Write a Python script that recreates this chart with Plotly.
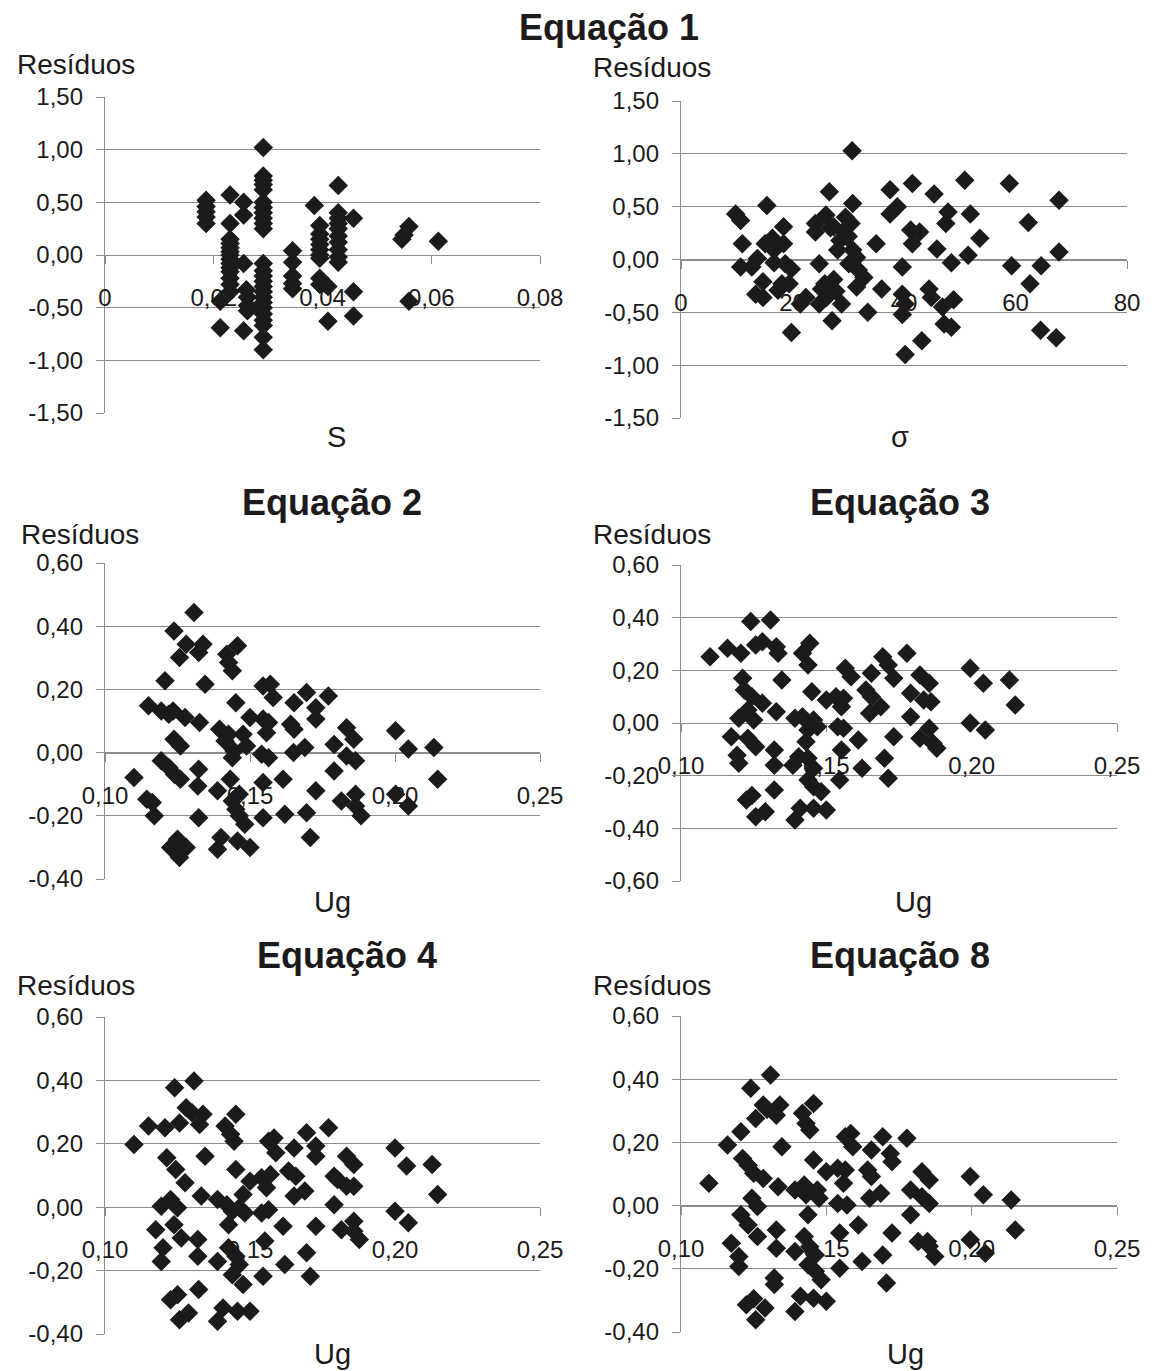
import plotly.graph_objects as go

# ---------------- data ----------------
# Equação 1: residuals against S
s_values = [
    0.0186, 0.0186, 0.0186, 0.0186, 0.0186,
    0.0212, 0.0212,
    0.0230, 0.0230, 0.0230, 0.0230, 0.0230, 0.0230, 0.0230, 0.0230, 0.0230, 0.0230, 0.0230, 0.0230, 0.0230, 0.0230,
    0.0255, 0.0255, 0.0255, 0.0260, 0.0262, 0.0262, 0.0262, 0.0255,
    0.0291, 0.0291, 0.0291, 0.0291, 0.0291, 0.0291, 0.0291, 0.0291, 0.0291, 0.0291, 0.0291, 0.0291, 0.0291,
    0.0291, 0.0291, 0.0291, 0.0291, 0.0291, 0.0291, 0.0291, 0.0291, 0.0291, 0.0291, 0.0291, 0.0291,
    0.0345, 0.0345, 0.0345, 0.0345, 0.0345,
    0.0385,
    0.0395, 0.0395, 0.0395, 0.0395, 0.0395, 0.0395, 0.0395, 0.0395, 0.0395,
    0.0410, 0.0410,
    0.0429, 0.0429, 0.0429, 0.0429, 0.0429, 0.0429, 0.0429, 0.0429, 0.0429, 0.0429,
    0.0457, 0.0457, 0.0457,
    0.0546, 0.0550,
    0.0559, 0.0559,
    0.0613,
]
res_eq1_s = [
    0.52, 0.46, 0.41, 0.36, 0.30,
    -0.44, -0.69,
    0.57, 0.30, 0.15, 0.11, 0.07, 0.03, 0.00, -0.04, -0.08, -0.12, -0.16, -0.22, -0.28, -0.35,
    0.50, 0.38, -0.08, -0.33, -0.40, -0.48, -0.53, -0.72,
    1.02, 0.75, 0.71, 0.67, 0.62, 0.50, 0.45, 0.40, 0.35, 0.30, 0.25, -0.08, -0.15,
    -0.20, -0.25, -0.30, -0.35, -0.40, -0.45, -0.50, -0.56, -0.62, -0.67, -0.78, -0.90,
    0.04, -0.07, -0.20, -0.27, -0.32,
    0.47,
    0.28, 0.20, 0.15, 0.10, 0.05, 0.00, -0.03, -0.22, -0.28,
    -0.30, -0.63,
    0.66, 0.40, 0.35, 0.30, 0.25, 0.18, 0.12, 0.05, -0.02, -0.07,
    0.35, -0.35, -0.58,
    0.15, 0.19,
    0.27, -0.44,
    0.13,
]

# Equação 1: residuals against sigma
sigma_values = [
    9.8, 10.7, 11.0, 10.7, 12.7, 13.7, 13.4, 14.7, 14.7, 15.4,
    15.1, 16.4, 16.7, 16.7, 17.4, 18.4, 18.4, 18.7, 19.8, 19.4,
    18.1, 19.8, 21.4, 22.4, 24.1, 24.1, 24.8, 24.8, 26.0, 26.6,
    25.8, 26.1, 27.1, 27.4, 27.4, 28.1, 28.8, 29.5, 29.8, 30.1,
    30.5, 30.7, 30.8, 30.8, 31.5, 31.8, 31.5, 32.8, 33.5, 35.0,
    36.0, 37.5, 37.5, 38.8, 39.7, 39.7, 39.7, 40.2, 40.2, 41.5,
    41.2, 41.5, 42.8, 43.2, 44.5, 44.9, 45.4, 45.9, 46.9, 47.2,
    47.5, 47.9, 48.5, 48.9, 48.5, 50.9, 51.9, 51.5, 53.6, 58.9,
    59.3, 62.3, 62.6, 64.6, 64.5, 67.3, 67.8, 67.8,
    26.8, 28.5, 29.2, 30.0, 25.2, 27.8,
]
res_eq1_sigma = [
    0.43, 0.37, 0.15, -0.07, -0.07, 0.01, -0.33, -0.36, -0.21, 0.51,
    0.15, 0.20, 0.09, -0.03, -0.29, 0.31, 0.15, -0.04, -0.09, -0.23,
    -0.23, -0.69, -0.42, -0.36, 0.34, 0.26, -0.04, -0.42, 0.42, 0.64,
    -0.23, -0.36, -0.58, -0.19, 0.31, 0.09, -0.42, 0.40, 0.21, -0.04,
    0.34, 1.03, 0.53, 0.09, 0.02, -0.10, -0.26, -0.17, -0.50, 0.15,
    -0.28, 0.66, 0.43, 0.50, -0.07, -0.33, -0.52, -0.42, -0.90, 0.72,
    0.28, 0.15, 0.26, -0.77, -0.28, -0.36, 0.62, 0.10, -0.45, -0.61,
    0.34, 0.45, -0.03, -0.38, -0.64, 0.75, 0.43, 0.04, 0.20, 0.72,
    -0.06, 0.35, -0.23, -0.06, -0.67, -0.74, 0.56, 0.07,
    0.30, 0.18, 0.27, 0.22, -0.28, -0.30,
]

# Equação 2: residuals against Ug
ug_eq2 = [
    0.110, 0.115, 0.1144, 0.1163, 0.117, 0.1207, 0.1194, 0.122, 0.1235, 0.1194,
    0.122, 0.124, 0.126, 0.1238, 0.126, 0.1238, 0.1257, 0.1226, 0.125, 0.1257,
    0.128, 0.1245, 0.128, 0.1276, 0.1307, 0.1323, 0.1338, 0.1345, 0.1326, 0.1323,
    0.132, 0.1323, 0.1388, 0.1388, 0.140, 0.1395, 0.142, 0.1426, 0.1439, 0.1457,
    0.1432, 0.1439, 0.1445, 0.1414, 0.1426, 0.1451, 0.1439, 0.1451, 0.1463, 0.1482,
    0.1463, 0.1457, 0.150, 0.1476, 0.1488, 0.150, 0.1545, 0.157, 0.158, 0.1545,
    0.1564, 0.1557, 0.154, 0.1564, 0.1545, 0.1545, 0.1614, 0.162, 0.164, 0.1652,
    0.1652, 0.165, 0.1689, 0.1695, 0.1695, 0.1708, 0.1727, 0.1727, 0.1727, 0.177,
    0.179, 0.179, 0.1815, 0.1833, 0.1858, 0.1833, 0.1864, 0.1864, 0.1864, 0.1883,
    0.2002, 0.2002, 0.2046, 0.2046, 0.2134, 0.2147,
]
res_eq2 = [
    -0.079, 0.148, -0.148, -0.158, -0.200, 0.227, 0.132, 0.121, 0.132, -0.026,
    -0.047, -0.069, -0.084, 0.042, 0.021, 0.385, 0.301, -0.300, -0.274, -0.332,
    -0.300, -0.316, 0.343, 0.111, 0.443, 0.317, 0.343, 0.216, 0.095, -0.053,
    -0.106, -0.206, -0.121, -0.306, -0.269, 0.074, 0.311, 0.285, 0.259, 0.338,
    -0.084, -0.016, 0.005, 0.037, 0.058, 0.158, -0.153, -0.179, -0.200, -0.227,
    -0.132, -0.280, -0.300, 0.058, 0.021, 0.111, 0.211, 0.216, 0.174, 0.106,
    0.095, 0.063, -0.005, -0.016, -0.095, -0.206, -0.084, -0.195, 0.090, 0.074,
    0.158, 0.000, 0.016, 0.190, -0.190, -0.269, 0.142, 0.106, -0.121, 0.179,
    0.026, -0.058, -0.153, 0.079, 0.042, -0.011, -0.026, -0.132, -0.169, -0.200,
    0.069, -0.132, 0.011, -0.169, 0.016, -0.084,
]

# Equação 3: residuals against Ug
ug_eq3 = [
    0.110, 0.116, 0.1206, 0.1212, 0.1173, 0.1193, 0.1199, 0.1199, 0.123, 0.125,
    0.1218, 0.1244, 0.128, 0.123, 0.1257, 0.124, 0.1257, 0.128, 0.1308, 0.1328,
    0.1334, 0.1347, 0.1328, 0.1321, 0.1321, 0.1321, 0.1225, 0.1244, 0.1257, 0.129,
    0.1392, 0.141, 0.1385, 0.1405, 0.1392, 0.1418, 0.1418, 0.1443, 0.1437, 0.145,
    0.1437, 0.1430, 0.1456, 0.1469, 0.1437, 0.1456, 0.1437, 0.1456, 0.1482, 0.1456,
    0.150, 0.150, 0.1533, 0.1559, 0.1552, 0.1539, 0.1559, 0.1552, 0.1546, 0.1565,
    0.1585, 0.161, 0.1623, 0.1636, 0.1655, 0.1655, 0.1649, 0.1687, 0.1694, 0.1713,
    0.1732, 0.170, 0.1713, 0.1732, 0.1777, 0.179, 0.179, 0.1822, 0.1854, 0.1835,
    0.1860, 0.1822, 0.1854, 0.1867, 0.188, 0.1995, 0.204, 0.1995, 0.2047, 0.213,
    0.215,
]
res_eq3 = [
    0.252, 0.284, 0.265, 0.170, -0.052, -0.122, -0.153, 0.018, 0.049, 0.011,
    0.125, 0.100, 0.075, -0.058, -0.090, 0.385, 0.296, 0.309, 0.391, 0.290,
    0.265, 0.163, 0.043, -0.103, -0.160, -0.254, -0.292, -0.275, -0.356, -0.337,
    -0.368, -0.324, -0.160, -0.128, 0.018, 0.024, 0.265, 0.303, 0.220, 0.119,
    -0.027, -0.071, 0.011, -0.014, -0.134, -0.172, -0.216, -0.242, -0.261, -0.324,
    -0.330, 0.087, 0.100, 0.094, 0.062, -0.014, -0.020, -0.103, -0.216, 0.208,
    0.176, -0.065, -0.172, 0.125, 0.100, 0.189, 0.037, 0.062, 0.252, 0.220,
    0.170, -0.134, -0.210, -0.052, 0.265, 0.113, 0.024, 0.182, 0.151, 0.087,
    0.081, -0.058, -0.020, -0.077, -0.096, 0.208, 0.151, 0.000, -0.027, 0.163,
    0.068,
]

# Equação 4: residuals against Ug
ug_eq4 = [
    0.110, 0.115, 0.1207, 0.1213, 0.1175, 0.120, 0.1194, 0.1194, 0.1226, 0.125,
    0.1244, 0.1276, 0.1238, 0.1263, 0.124, 0.1257, 0.128, 0.130, 0.1307, 0.1338,
    0.1326, 0.1345, 0.1332, 0.132, 0.132, 0.1323, 0.1226, 0.1250, 0.1257, 0.1288,
    0.1388, 0.1407, 0.1388, 0.1388, 0.1420, 0.1414, 0.1433, 0.1451, 0.1445, 0.1451,
    0.1426, 0.1439, 0.1463, 0.1482, 0.1426, 0.1451, 0.1463, 0.1439, 0.1476, 0.1457,
    0.150, 0.1476, 0.150, 0.154, 0.1570, 0.1557, 0.154, 0.1564, 0.1551, 0.1545,
    0.1564, 0.1583, 0.1589, 0.1614, 0.162, 0.1633, 0.1658, 0.1652, 0.1652, 0.1689,
    0.1695, 0.1695, 0.1708, 0.1727, 0.1727, 0.1727, 0.1771, 0.179, 0.1802, 0.179,
    0.1815, 0.1833, 0.1858, 0.1833, 0.1858, 0.1858, 0.1858, 0.1877, 0.200, 0.200,
    0.204, 0.2046, 0.2128, 0.2147,
]
res_eq4 = [
    0.198, 0.256, 0.251, 0.156, -0.071, -0.128, -0.171, 0.003, 0.024, -0.002,
    0.119, 0.077, -0.055, -0.097, 0.377, 0.266, 0.314, 0.298, 0.398, 0.293,
    0.261, 0.161, 0.035, -0.102, -0.155, -0.260, -0.292, -0.276, -0.355, -0.334,
    -0.360, -0.318, -0.171, 0.024, 0.008, 0.256, 0.230, 0.293, 0.208, 0.119,
    -0.055, -0.013, -0.002, -0.018, -0.128, -0.155, -0.181, -0.213, -0.244, -0.328,
    -0.328, 0.040, 0.082, 0.093, 0.103, 0.061, -0.018, -0.008, -0.107, -0.218,
    0.208, 0.218, 0.172, -0.060, -0.181, 0.114, 0.098, 0.187, 0.035, 0.051,
    0.235, -0.144, -0.218, 0.193, 0.161, -0.060, 0.251, 0.098, 0.087, 0.008,
    -0.071, 0.161, 0.135, 0.066, 0.066, -0.044, -0.076, -0.102, 0.187, -0.013,
    0.130, -0.049, 0.135, 0.040,
]

# Equação 8: residuals against Ug
ug_eq8 = [
    0.1096, 0.116, 0.1206, 0.1212, 0.1231, 0.125, 0.1283, 0.1173, 0.1199, 0.1199,
    0.1206, 0.1231, 0.1263, 0.1244, 0.1263, 0.124, 0.1257, 0.1283, 0.1296, 0.1308,
    0.1328, 0.134, 0.1347, 0.1334, 0.1328, 0.1328, 0.1321, 0.1321, 0.1225, 0.1250,
    0.1257, 0.1289, 0.1392, 0.1411, 0.1392, 0.1392, 0.1424, 0.1418, 0.1430, 0.1443,
    0.1456, 0.1456, 0.143, 0.1437, 0.1469, 0.1475, 0.1424, 0.1443, 0.1462, 0.1437,
    0.1462, 0.1482, 0.1456, 0.150, 0.150, 0.1539, 0.1565, 0.1559, 0.1539, 0.1571,
    0.1546, 0.1546, 0.1565, 0.1584, 0.1591, 0.161, 0.1623, 0.1642, 0.1655, 0.1655,
    0.1649, 0.1687, 0.1694, 0.1694, 0.1707, 0.172, 0.1726, 0.1726, 0.1777, 0.179,
    0.179, 0.1816, 0.1848, 0.1829, 0.1854, 0.1829, 0.1854, 0.1854, 0.1873, 0.1995,
    0.1995, 0.204, 0.2047, 0.2136, 0.215,
]
res_eq8 = [
    0.071, 0.192, 0.234, 0.149, 0.128, 0.102, 0.086, -0.119, -0.161, -0.193,
    -0.029, -0.061, -0.098, 0.023, -0.003, 0.371, 0.276, 0.318, 0.305, 0.413,
    0.286, 0.318, 0.186, 0.060, -0.077, -0.135, -0.229, -0.250, -0.314, -0.295,
    -0.361, -0.324, -0.335, -0.287, -0.145, 0.049, 0.065, 0.292, 0.260, 0.239,
    0.323, 0.144, 0.034, -0.029, 0.049, 0.023, -0.098, -0.130, -0.156, -0.187,
    -0.208, -0.235, -0.293, -0.303, 0.107, 0.118, 0.113, 0.071, 0.007, 0.002,
    -0.087, -0.198, 0.218, 0.228, 0.186, -0.061, -0.177, 0.113, 0.092, 0.176,
    0.023, 0.039, 0.218, -0.156, -0.245, 0.165, 0.139, -0.087, 0.213, 0.049,
    -0.029, -0.114, -0.114, 0.107, 0.081, 0.028, 0.007, -0.129, -0.161, 0.092,
    -0.108, 0.034, -0.151, 0.018, -0.077,
]

# tick labels
s_ticks = [0, 0.02, 0.04, 0.06, 0.08]
s_ticktext = ["0", "0,02", "0,04", "0,06", "0,08"]
sigma_ticks = [0, 20, 40, 60, 80]
sigma_ticktext = ["0", "20", "40", "60", "80"]
ug_ticks = [0.10, 0.15, 0.20, 0.25]
ug_ticktext = ["0,10", "0,15", "0,20", "0,25"]

res_ticks_wide = [-1.5, -1.0, -0.5, 0.0, 0.5, 1.0, 1.5]
res_ticktext_wide = ["-1,50", "-1,00", "-0,50", "0,00", "0,50", "1,00", "1,50"]
res_ticks_a = [-0.4, -0.2, 0.0, 0.2, 0.4, 0.6]
res_ticktext_a = ["-0,40", "-0,20", "0,00", "0,20", "0,40", "0,60"]
res_ticks_b = [-0.6, -0.4, -0.2, 0.0, 0.2, 0.4, 0.6]
res_ticktext_b = ["-0,60", "-0,40", "-0,20", "0,00", "0,20", "0,40", "0,60"]

panel_titles = ["Equação 1", "Equação 2", "Equação 3", "Equação 4", "Equação 8"]
y_title = "Resíduos"

# ---------------- layout helpers ----------------
W, H = 1154, 1371
FONT = "Liberation Sans, Arial, sans-serif"
INK = "#1c1a1b"
GRID = "#8c8c8c"


def xdom(left, right):
    return [left / W, right / W]


def ydom(top, bottom):
    return [1 - bottom / H, 1 - top / H]


panels = [
    dict(x=s_values, y=res_eq1_s, xpx=(105, 540), ypx=(97, 413), xr=(0, 0.08), yr=(-1.5, 1.5),
         tv=s_ticks, tt=s_ticktext, ytv=res_ticks_wide, ytt=res_ticktext_wide,
         xt="S", xt_pos=(336, 437), yt_pos=(76, 65)),
    dict(x=sigma_values, y=res_eq1_sigma, xpx=(681, 1127), ypx=(101, 418), xr=(0, 80), yr=(-1.5, 1.5),
         tv=sigma_ticks, tt=sigma_ticktext, ytv=res_ticks_wide, ytt=res_ticktext_wide,
         xt="σ", xt_pos=(900, 437), yt_pos=(652, 67)),
    dict(x=ug_eq2, y=res_eq2, xpx=(105, 540), ypx=(563, 879), xr=(0.10, 0.25), yr=(-0.4, 0.6),
         tv=ug_ticks, tt=ug_ticktext, ytv=res_ticks_a, ytt=res_ticktext_a,
         xt="Ug", xt_pos=(332, 902), yt_pos=(80, 534)),
    dict(x=ug_eq3, y=res_eq3, xpx=(681, 1117), ypx=(565, 881), xr=(0.10, 0.25), yr=(-0.6, 0.6),
         tv=ug_ticks, tt=ug_ticktext, ytv=res_ticks_b, ytt=res_ticktext_b,
         xt="Ug", xt_pos=(913, 902), yt_pos=(652, 534)),
    dict(x=ug_eq4, y=res_eq4, xpx=(105, 540), ypx=(1017, 1334), xr=(0.10, 0.25), yr=(-0.4, 0.6),
         tv=ug_ticks, tt=ug_ticktext, ytv=res_ticks_a, ytt=res_ticktext_a,
         xt="Ug", xt_pos=(332, 1354), yt_pos=(76, 986)),
    dict(x=ug_eq8, y=res_eq8, xpx=(681, 1117), ypx=(1016, 1332), xr=(0.10, 0.25), yr=(-0.4, 0.6),
         tv=ug_ticks, tt=ug_ticktext, ytv=res_ticks_a, ytt=res_ticktext_a,
         xt="Ug", xt_pos=(905, 1354), yt_pos=(652, 986)),
]

title_pos = [(609, 27), (332, 502), (900, 502), (347, 955), (900, 955)]

fig = go.Figure()
annotations = []

for i, p in enumerate(panels, start=1):
    xa = "x" if i == 1 else f"x{i}"
    ya = "y" if i == 1 else f"y{i}"
    fig.add_trace(go.Scatter(
        x=p["x"], y=p["y"], mode="markers", xaxis=xa, yaxis=ya,
        marker=dict(symbol="diamond", size=15, color=INK, line=dict(width=0)),
        showlegend=False, cliponaxis=False,
    ))

    yd = ydom(*p["ypx"])
    y0, y1 = p["yr"]
    zero_pos = yd[0] + (0 - y0) / (y1 - y0) * (yd[1] - yd[0])

    xkey = "xaxis" if i == 1 else f"xaxis{i}"
    ykey = "yaxis" if i == 1 else f"yaxis{i}"
    fig.layout[xkey] = dict(
        domain=xdom(*p["xpx"]), range=list(p["xr"]), anchor="free", position=zero_pos,
        automargin=False,
        tickmode="array", tickvals=p["tv"], ticktext=p["tt"],
        showgrid=False, zeroline=False, showline=True, linecolor=GRID, linewidth=1.4,
        ticks="outside", ticklen=8, tickwidth=1.4, tickcolor=GRID,
        ticklabelstandoff=13, layer="below traces",
        tickfont=dict(family=FONT, size=24, color=INK), fixedrange=True,
    )
    fig.layout[ykey] = dict(
        domain=yd, range=list(p["yr"]), anchor=xa, automargin=False,
        tickmode="array", tickvals=p["ytv"], ticktext=p["ytt"],
        showgrid=True, gridcolor=GRID, gridwidth=1.4, zeroline=False,
        showline=True, linecolor=GRID, linewidth=1.4,
        ticks="outside", ticklen=8, tickwidth=1.4, tickcolor=GRID,
        ticklabelstandoff=8, layer="below traces",
        tickfont=dict(family=FONT, size=24, color=INK), fixedrange=True,
    )

    annotations.append(dict(
        text=p["xt"], x=p["xt_pos"][0] / W, y=1 - p["xt_pos"][1] / H,
        xref="paper", yref="paper", xanchor="center", yanchor="middle", showarrow=False,
        font=dict(family=FONT, size=29, color=INK),
    ))
    annotations.append(dict(
        text=y_title, x=p["yt_pos"][0] / W, y=1 - p["yt_pos"][1] / H,
        xref="paper", yref="paper", xanchor="center", yanchor="middle", showarrow=False,
        font=dict(family=FONT, size=28, color=INK),
    ))

for text, (cx, cy) in zip(panel_titles, title_pos):
    annotations.append(dict(
        text=f"<b>{text}</b>", x=cx / W, y=1 - cy / H,
        xref="paper", yref="paper", xanchor="center", yanchor="middle", showarrow=False,
        font=dict(family=FONT, size=36, color=INK),
    ))

fig.update_layout(
    template="none",
    width=W, height=H, margin=dict(l=0, r=0, t=0, b=0, pad=0),
    paper_bgcolor="white", plot_bgcolor="white",
    separators=",.", annotations=annotations, showlegend=False,
    font=dict(family=FONT, color=INK),
)

fig.write_html("out.html", config=dict(displayModeBar=False))
